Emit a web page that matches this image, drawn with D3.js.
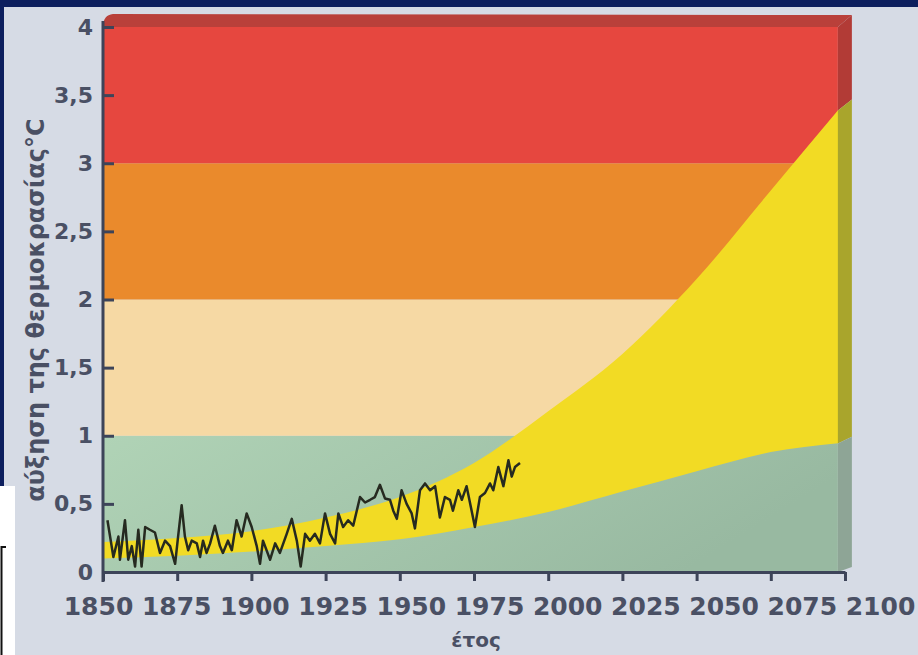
<!DOCTYPE html>
<html>
<head>
<meta charset="utf-8">
<script src="https://cdn.jsdelivr.net/npm/d3@7"></script>
<style>
  html, body { margin: 0; padding: 0; background: #0d1f5e; }
  svg { display: block; }
  .tick-label { font-family: "DejaVu Sans", sans-serif; font-weight: bold; fill: #4a5064; }
</style>
</head>
<body>
<svg id="chart" width="918" height="655"></svg>
<script>
// ---- data ----
const bandEdges = [0, 1, 2, 3, 4];
const bandColors = ["#a9cfb2", "#f6d9a4", "#ea8a2c", "#e6473f"];
const bandSideColors = ["#8ea596", "#a9a52c", "#a9a52c", "#b23b36"];

// projected range (yellow), °C
const projYears = [1850, 1875, 1900, 1925, 1950, 1975, 2000, 2025, 2050, 2075, 2100];
const projUpper = [0.22, 0.25, 0.30, 0.40, 0.55, 0.80, 1.18, 1.60, 2.15, 2.80, 3.45];
const projLower = [0.10, 0.12, 0.15, 0.19, 0.24, 0.33, 0.44, 0.59, 0.74, 0.88, 0.95];

// observed temperature rise (black line)
const obsYears = [1851.5, 1853.5, 1855.2, 1855.7, 1857.4, 1858.5, 1859.7, 1860.8, 1861.9, 1863.0,
  1864.2, 1865.8, 1867.5, 1869.2, 1870.9, 1872.6, 1874.3, 1875.3, 1876.5, 1877.6,
  1878.7, 1879.9, 1881.6, 1882.7, 1883.7, 1884.9, 1886.1, 1887.7, 1889.4, 1890.4,
  1892.1, 1893.4, 1895.0, 1896.7, 1898.4, 1900.1, 1901.8, 1902.9, 1903.9, 1906.3,
  1908.0, 1909.6, 1911.9, 1913.6, 1915.3, 1916.6, 1918.1, 1919.7, 1921.4, 1923.1,
  1924.8, 1926.5, 1928.2, 1929.3, 1930.9, 1932.6, 1934.3, 1936.6, 1938.3, 1940.0,
  1941.6, 1943.3, 1945.0, 1946.7, 1947.8, 1949.0, 1950.6, 1952.3, 1954.0, 1955.1,
  1956.8, 1958.5, 1960.2, 1961.9, 1963.5, 1965.2, 1966.9, 1967.9, 1969.7, 1970.9,
  1972.5, 1974.2, 1975.3, 1977.0, 1978.7, 1980.4, 1981.5, 1983.2, 1984.9, 1986.6,
  1987.7, 1988.8, 1990.5];
const obsValues = [0.38, 0.11, 0.26, 0.09, 0.38, 0.09, 0.19, 0.04, 0.31, 0.04,
  0.33, 0.31, 0.29, 0.14, 0.23, 0.19, 0.06, 0.26, 0.49, 0.26,
  0.16, 0.23, 0.21, 0.11, 0.23, 0.14, 0.21, 0.34, 0.19, 0.14,
  0.23, 0.16, 0.38, 0.26, 0.43, 0.33, 0.19, 0.06, 0.23, 0.09,
  0.21, 0.14, 0.28, 0.39, 0.23, 0.04, 0.28, 0.23, 0.28, 0.21,
  0.43, 0.28, 0.21, 0.43, 0.33, 0.38, 0.34, 0.55, 0.51, 0.53,
  0.55, 0.64, 0.54, 0.53, 0.45, 0.39, 0.60, 0.50, 0.43, 0.32,
  0.60, 0.65, 0.60, 0.63, 0.40, 0.55, 0.53, 0.45, 0.60, 0.53,
  0.63, 0.45, 0.33, 0.55, 0.58, 0.65, 0.60, 0.77, 0.63, 0.82,
  0.70, 0.77, 0.80];

const xTicks = [1850, 1875, 1900, 1925, 1950, 1975, 2000, 2025, 2050, 2075, 2100];
const yTicks = [0, 0.5, 1, 1.5, 2, 2.5, 3, 3.5, 4];
const yTickLabels = ["0", "0,5", "1", "1,5", "2", "2,5", "3", "3,5", "4"];
const xTitle = "έτος";
const yTitle = "αύξηση της θερμοκρασίας°C";

// ---- layout ----
const svg = d3.select("#chart");
const x = d3.scaleLinear().domain([1850, 2100]).range([103, 845]);
const y = d3.scaleLinear().domain([0, 4]).range([572, 27]);
// the year labels in the scan sit on a slightly wider pitch than the ticks
const xLabel = d3.scalePoint().domain(xTicks).range([98, 880]);
const faceEnd = 2097.6;           // front face stops a bit before 2100
const fx1 = x(faceEnd);
const axisCol = "#3d4459";

// page frame
svg.append("rect").attr("x", 4).attr("y", 7).attr("width", 914).attr("height", 648).attr("fill", "#d6dbe5");
svg.append("rect").attr("x", 0).attr("y", 486).attr("width", 15).attr("height", 169).attr("fill", "#ffffff");
svg.append("path").attr("d", "M1.5,655 L1.5,547 L6,547").attr("fill", "none").attr("stroke", "#111").attr("stroke-width", 2);

const defs = svg.append("defs");
const gg = defs.append("linearGradient").attr("id", "greenGrad").attr("x1", 0).attr("x2", 1).attr("y1", 0).attr("y2", 0.3);
gg.append("stop").attr("offset", "0%").attr("stop-color", "#b0d3b6");
gg.append("stop").attr("offset", "100%").attr("stop-color", "#98b9a1");
defs.append("clipPath").attr("id", "faceClip").append("rect")
  .attr("x", x(1850)).attr("y", y(4)).attr("width", fx1 - x(1850)).attr("height", y(0) - y(4));

// side face offset (perspective: larger at top)
const sideDx = 14;
const sideDy = v => -5 - 7 * (y(0) - v) / (y(0) - y(4));

// top face
svg.append("path")
  .attr("d", `M${x(1850)},${y(4)} Q${x(1850)},${y(4) - 12} ${x(1850) + 10},${y(4) - 13} L${fx1 + sideDx},${y(4) + sideDy(y(4))} L${fx1},${y(4)} Z`)
  .attr("fill", "#b9403a");

// front bands
const face = svg.append("g").attr("clip-path", "url(#faceClip)");
face.selectAll("rect.band")
  .data(bandColors)
  .join("rect")
  .attr("class", "band")
  .attr("x", x(1850))
  .attr("width", fx1 - x(1850))
  .attr("y", (d, i) => y(bandEdges[i + 1]))
  .attr("height", (d, i) => y(bandEdges[i]) - y(bandEdges[i + 1]))
  .attr("fill", (d, i) => i === 0 ? "url(#greenGrad)" : d);

// yellow projected range
const proj = projYears.map((yr, i) => ({ yr, lo: projLower[i], hi: projUpper[i] }));
face.append("path")
  .datum(proj)
  .attr("fill", "#f2db24")
  .attr("d", d3.area().curve(d3.curveMonotoneX)
    .x(d => x(d.yr)).y0(d => y(d.lo)).y1(d => y(d.hi)));

// right side face
const hiEnd = d3.interpolateNumber(projUpper[9], projUpper[10])((faceEnd - 2075) / 25);
const loEnd = d3.interpolateNumber(projLower[9], projLower[10])((faceEnd - 2075) / 25);
const sideSegs = [
  { top: 4, bot: hiEnd, c: bandSideColors[3] },
  { top: hiEnd, bot: loEnd, c: bandSideColors[1] },
  { top: loEnd, bot: 0, c: bandSideColors[0] }
];
svg.append("g").selectAll("path")
  .data(sideSegs)
  .join("path")
  .attr("fill", d => d.c)
  .attr("d", d => {
    const yt = y(d.top), yb = y(d.bot);
    return `M${fx1},${yt} L${fx1 + sideDx},${yt + sideDy(yt)} L${fx1 + sideDx},${yb + sideDy(yb)} L${fx1},${yb} Z`;
  });

// observed line
const obs = obsYears.map((yr, i) => ({ yr, v: obsValues[i] }));
svg.append("path")
  .datum(obs)
  .attr("fill", "none")
  .attr("stroke", "#262a20")
  .attr("stroke-width", 2.5)
  .attr("stroke-linejoin", "round")
  .attr("d", d3.line().x(d => x(d.yr)).y(d => y(d.v)));

// axes
const xAxis = svg.append("g").attr("transform", `translate(0,${y(0)})`)
  .call(d3.axisBottom(x).tickValues(xTicks).tickFormat(d3.format("d"))
    .tickSize(9).tickSizeOuter(0).tickPadding(16));
xAxis.select(".domain").attr("stroke", axisCol).attr("stroke-width", 3);
xAxis.selectAll(".tick line").attr("stroke", axisCol).attr("stroke-width", 3);
xAxis.selectAll(".tick text").attr("class", "tick-label").attr("font-size", 25).attr("font-family", null).attr("fill", null)
  .attr("x", d => xLabel(d) - x(d));

const yAxis = svg.append("g").attr("transform", `translate(${x(1850)},0)`)
  .call(d3.axisRight(y).tickValues(yTicks).tickSize(11).tickSizeOuter(0).tickFormat((d, i) => yTickLabels[i]));
yAxis.select(".domain").attr("stroke", axisCol).attr("stroke-width", 3)
  .attr("d", `M0,${y(4) - 6}V${y(0) + 10}`);
yAxis.selectAll(".tick line").attr("stroke", axisCol).attr("stroke-width", 3);
yAxis.selectAll(".tick text").attr("class", "tick-label").attr("font-size", 22).attr("font-family", null).attr("fill", null)
  .attr("text-anchor", "end").attr("x", -10);

// titles
svg.append("text").attr("class", "tick-label")
  .attr("x", 476).attr("y", 647).attr("text-anchor", "middle").attr("font-size", 20)
  .text(xTitle);
svg.append("text").attr("class", "tick-label")
  .attr("transform", `translate(44,310) rotate(-90)`).attr("text-anchor", "middle").attr("font-size", 24)
  .text(yTitle);
</script>
</body>
</html>
